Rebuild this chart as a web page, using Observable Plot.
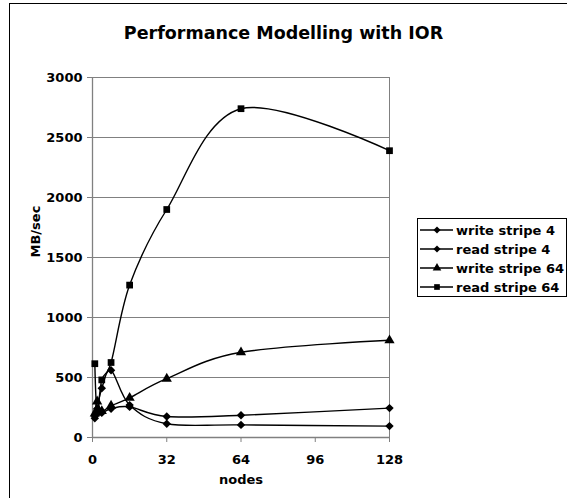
<!DOCTYPE html>
<html>
<head>
<meta charset="utf-8">
<script src="https://cdn.jsdelivr.net/npm/d3@7"></script>
<script src="https://cdn.jsdelivr.net/npm/@observablehq/plot@0.6"></script>
<style>
  html, body { margin: 0; padding: 0; background: #fff; overflow: hidden; }
  #wrap { position: relative; width: 567px; height: 498px; overflow: hidden; font-family: "DejaVu Sans", Verdana, sans-serif; }
  #frame { position: absolute; left: 9px; top: 3px; width: 700px; height: 700px; border: 1px solid #000; box-sizing: border-box; }
  #title { position: absolute; left: 0; width: 567px; top: 20px; height: 26px; text-align: center; font-weight: bold; font-size: 17.5px; line-height: 26px; color: #000; }
  #chart { position: absolute; left: 0; top: 55px; }
  #legend { position: absolute; left: 417px; top: 218px; width: 150px; height: 79px; border: 1px solid #000; box-sizing: border-box; background: #fff; }
</style>
</head>
<body>
<div id="wrap">
  <div id="frame"></div>
  <div id="title">Performance Modelling with IOR</div>
  <div id="chart"></div>
  <div id="legend"></div>
</div>
<script>
// ---- data ----
const nodes = [1, 2, 4, 8, 16, 32, 64, 128];
const writeStripe4 = [160, 240, 410, 560, 270, 115, 105, 95];
const readStripe4 = [180, 200, 205, 240, 255, 175, 185, 245];
const writeStripe64 = [200, 300, 220, 265, 330, 490, 710, 810];
const readStripe64 = [615, 210, 480, 625, 1270, 1900, 2740, 2390];
const seriesNames = ["write stripe 4", "read stripe 4", "write stripe 64", "read stripe 64"];
const seriesSymbols = ["diamond2", "diamond2", "triangle", "square"];
const xTicks = [0, 32, 64, 96, 128];
const yTicks = [0, 500, 1000, 1500, 2000, 2500, 3000];
const titleText = "Performance Modelling with IOR";
const xLabel = "nodes";
const yLabel = "MB/sec";

const seriesValues = [writeStripe4, readStripe4, writeStripe64, readStripe64];
const rows = [];
seriesNames.forEach((name, i) => {
  nodes.forEach((n, j) => rows.push({series: name, nodes: n, value: seriesValues[i][j]}));
});

const grey = "#808080";
const chart = Plot.plot({
  width: 567,
  height: 443,
  marginLeft: 92,
  marginRight: 178,
  marginTop: 22,
  marginBottom: 61,
  x: {domain: [0, 128]},
  y: {domain: [0, 3000]},
  symbol: {domain: seriesNames, range: seriesSymbols},
  style: {fontFamily: "DejaVu Sans, Verdana, sans-serif", fontSize: "13px", fontWeight: "bold", background: "transparent", overflow: "visible", color: "#000"},
  marks: [
    Plot.gridY(yTicks, {stroke: grey, strokeOpacity: 1, strokeWidth: 1}),
    Plot.ruleX([128], {stroke: grey, strokeWidth: 1}),
    Plot.ruleX([0], {stroke: grey, strokeWidth: 1.3}),
    Plot.ruleY([0], {stroke: grey, strokeWidth: 1.3}),
    Plot.axisY(yTicks, {tickSize: 5, tickPadding: 5, stroke: grey, fill: "#000", fontWeight: "bold", fontSize: 13, label: null, tickFormat: d => String(d)}),
    Plot.axisX(xTicks, {tickSize: 5, tickPadding: 12, stroke: grey, fill: "#000", fontWeight: "bold", fontSize: 13, label: null, tickFormat: d => String(d)}),
    Plot.text([yLabel], {frameAnchor: "left", dx: -57, rotate: -90, text: d => d, fontWeight: "bold", fontSize: 13, fill: "#000"}),
    Plot.text([xLabel], {frameAnchor: "bottom", dy: 46, text: d => d, fontWeight: "bold", fontSize: 13, fill: "#000"}),
    Plot.line(rows, {x: "nodes", y: "value", z: "series", curve: "cardinal", tension: 0, stroke: "#000", strokeWidth: 1.4}),
    Plot.dot(rows, {x: "nodes", y: "value", symbol: "series", fill: "#000", stroke: "none", r: 3.8})
  ]
});
document.getElementById("chart").appendChild(chart);

// ---- legend ----
const lg = d3.select("#legend").append("svg").attr("width", 148).attr("height", 77)
  .style("font-family", "DejaVu Sans, Verdana, sans-serif").style("font-weight", "bold").style("font-size", "13px");
const d3Sym = {diamond2: d3.symbolDiamond2, triangle: d3.symbolTriangle, square: d3.symbolSquare};
seriesNames.forEach((name, i) => {
  const cy = 11 + i * 19;
  const g = lg.append("g");
  g.append("line").attr("x1", 2).attr("x2", 35).attr("y1", cy).attr("y2", cy).attr("stroke", "#000").attr("stroke-width", 1.4);
  g.append("path").attr("transform", `translate(19,${cy})`).attr("d", d3.symbol(d3Sym[seriesSymbols[i]], Math.PI * 3.2 * 3.2)()).attr("fill", "#000");
  g.append("text").attr("x", 38).attr("y", cy).attr("dy", "0.36em").attr("fill", "#000").text(name);
});
</script>
</body>
</html>
